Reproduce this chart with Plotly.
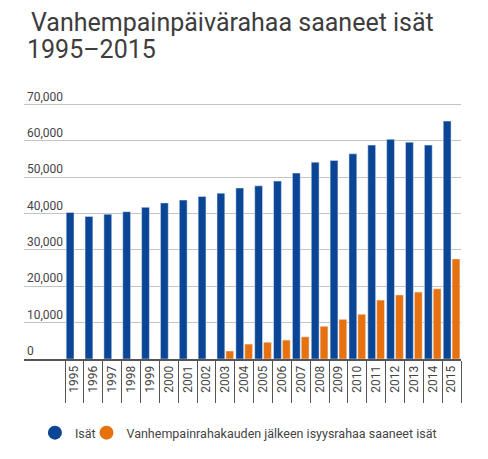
import plotly.graph_objects as go

years = [str(y) for y in range(1995, 2016)]
isat = [40300, 39200, 39800, 40500, 41700, 42900, 43700, 44700, 45600, 47000,
        47600, 48900, 51100, 54100, 54600, 56400, 58800, 60400, 59600, 58800, 65400]
jalkeen = [None, None, None, None, None, None, None, None, 2200, 4100,
           4600, 5200, 6100, 9000, 10900, 12300, 16200, 17600, 18400, 19300, 27500]
y_ticks = [0, 10000, 20000, 30000, 40000, 50000, 60000, 70000]
title_lines = ["Vanhempainpäivärahaa saaneet isät", "1995\u20132015"]

blue = "#0b4595"
orange = "#e8710f"

fig = go.Figure()
fig.add_trace(go.Bar(x=years, y=isat, name="Isät", marker_color=blue, showlegend=False))
fig.add_trace(go.Bar(x=years, y=jalkeen, name="Vanhempainrahakauden jälkeen isyysrahaa saaneet isät",
                     marker_color=orange, showlegend=False))
# round legend markers, one legend box each so they sit close together
fig.add_trace(go.Scatter(x=[None], y=[None], mode="markers", name="Isät", legend="legend",
                         marker=dict(color=blue, size=14, symbol="circle")))
fig.add_trace(go.Scatter(x=[None], y=[None], mode="markers", legend="legend2",
                         name="Vanhempainrahakauden jälkeen isyysrahaa saaneet isät",
                         marker=dict(color=orange, size=14, symbol="circle")))

# plot area runs 80..352 px (figure coords, page has 8px body margin)
top, bottom = 80, 352
ph = bottom - top

def py(px):
    return (bottom - px) / ph

fig.add_annotation(text=title_lines[0], xref="paper", yref="paper",
                   x=5 / 437, y=py(14), xanchor="left", yanchor="middle",
                   showarrow=False, font=dict(size=25, color="#3d3d3d"))
fig.add_annotation(text=title_lines[1], xref="paper", yref="paper",
                   x=1 / 437, y=py(41), xanchor="left", yanchor="middle",
                   showarrow=False, font=dict(size=25, color="#3d3d3d"))

leg = dict(orientation="h", yref="paper", y=py(425), yanchor="middle", xanchor="left",
           font=dict(size=12.5, color="#444"), bgcolor="rgba(0,0,0,0)")

fig.update_layout(
    width=480, height=451,
    margin=dict(l=16, r=27, t=top, b=451 - bottom),
    paper_bgcolor="white", plot_bgcolor="white",
    font=dict(family="Roboto", color="#333"),
    barmode="group", bargap=0.06, bargroupgap=0.12,
    legend=dict(leg, x=0.025),
    legend2=dict(leg, x=0.143),
    xaxis=dict(type="category", range=[-2.68, 20.5], showline=True, linecolor="#555",
               linewidth=2, ticks="outside", tickson="boundaries", ticklen=42,
               tickcolor="#555", tickwidth=1, tickangle=-90, ticklabelstandoff=0,
               tickfont=dict(size=12, color="#444"), showgrid=False, automargin=False),
    yaxis=dict(range=[0, 74500], tickvals=y_ticks, tickformat=",", gridcolor="#c4c4c4",
               ticklabelposition="inside", ticklabelshift=-8, ticklabelstandoff=0,
               zeroline=False, automargin=False,
               tickfont=dict(size=12, color="#444")),
)

fig.write_html("out.html")
